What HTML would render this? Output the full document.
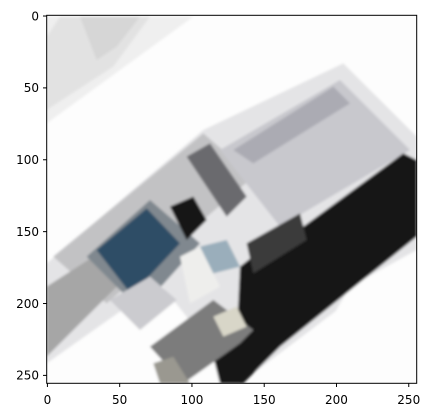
<!DOCTYPE html>
<html><head><meta charset="utf-8"><style>
html,body{margin:0;padding:0;background:#fff;}
svg{display:block;font-family:"DejaVu Sans","Liberation Sans",sans-serif;}
</style></head><body>
<svg width="430" height="418" viewBox="0 0 430 418">
<defs><clipPath id="c"><rect x="46.7" y="15.3" width="370" height="368"/></clipPath>
<filter id="b"><feGaussianBlur stdDeviation="4"/></filter></defs>
<g clip-path="url(#c)">
<rect x="46" y="15" width="372" height="370" fill="#fdfdfd"/>
<g transform="translate(40,10) scale(0.33333)" filter="url(#b)">
<polygon points="20,20 460,20 20,340" fill="#efefef"/>
<polygon points="60,20 330,20 220,170 20,300 20,80" fill="#e2e2e2"/>
<polygon points="120,20 300,20 230,110 170,150" fill="#d6d6d6"/>
<polygon points="20,760 490,360 910,160 1130,380 1130,720 600,1120 20,1120" fill="#e4e4e6"/>
<polygon points="20,1120 20,1060 360,820 600,1120" fill="#fdfdfd"/>
<polygon points="930,830 1130,720 1130,1120 760,1120" fill="#fdfdfd"/>
<polygon points="40,740 490,370 640,500 200,880" fill="#c2c2c4"/>
<polygon points="20,830 160,740 240,820 20,1040" fill="#a6a6a6"/>
<polygon points="540,420 900,210 1110,420 720,650" fill="#c8c8cd"/>
<polygon points="580,420 880,230 930,280 640,460" fill="#ababb3"/>
<polygon points="440,440 510,400 620,560 560,620" fill="#6a6a6e"/>
<polygon points="140,740 330,570 480,700 300,900" fill="#80888f"/>
<polygon points="170,720 320,595 420,700 275,855" fill="#2d4d66"/>
<polygon points="390,590 460,560 500,630 440,690" fill="#161616"/>
<polygon points="420,740 480,710 540,830 450,880" fill="#eeeeec"/>
<polygon points="480,710 560,690 600,770 520,790" fill="#9aaebb"/>
<polygon points="600,770 700,690 790,650 1090,430 1130,450 1130,680 720,1010 610,1120 540,1120 520,1040 590,990" fill="#151515"/>
<polygon points="620,700 780,610 800,690 640,790" fill="#3a3a3a"/>
<polygon points="330,1010 520,870 640,960 600,1000 430,1120" fill="#7b7b7b"/>
<polygon points="520,920 590,890 620,950 550,980" fill="#d8d6c8"/>
<polygon points="340,1060 400,1040 450,1120 360,1120" fill="#9a9890"/>
<polygon points="210,870 330,800 410,870 300,960" fill="#cbcbcf"/>
</g>
</g>
<rect x="46.7" y="15.3" width="370" height="368" fill="none" stroke="#000" stroke-width="1"/>
<g id="xt"></g>
<g id="yt"></g>
<script>
const xTicks=[0,50,100,150,200,250];
const yTicks=[0,50,100,150,200,250];
const L=46.7,T=15.3,S=370/256,SY=368/256;
const ns="http://www.w3.org/2000/svg";
const xt=document.getElementById('xt'),yt=document.getElementById('yt');
xTicks.forEach(v=>{const x=L+(v+0.5)*S;
const l=document.createElementNS(ns,'line');


l.setAttribute('x1',x);l.setAttribute('x2',x);l.setAttribute('y1',383.3);l.setAttribute('y2',387);l.setAttribute('stroke','#000');xt.appendChild(l);
const t=document.createElementNS(ns,'text');


t.setAttribute('x',x);t.setAttribute('y',404);t.setAttribute('font-size','12');t.setAttribute('text-anchor','middle');t.textContent=v;xt.appendChild(t);});
yTicks.forEach(v=>{const y=T+(v+0.5)*SY;
const l=document.createElementNS(ns,'line');


l.setAttribute('x1',43);l.setAttribute('x2',46.7);l.setAttribute('y1',y);l.setAttribute('y2',y);l.setAttribute('stroke','#000');yt.appendChild(l);
const t=document.createElementNS(ns,'text');


t.setAttribute('x',39);t.setAttribute('y',y+4.3);t.setAttribute('font-size','12');t.setAttribute('text-anchor','end');t.textContent=v;yt.appendChild(t);});
</script>
</svg>
</body></html>
